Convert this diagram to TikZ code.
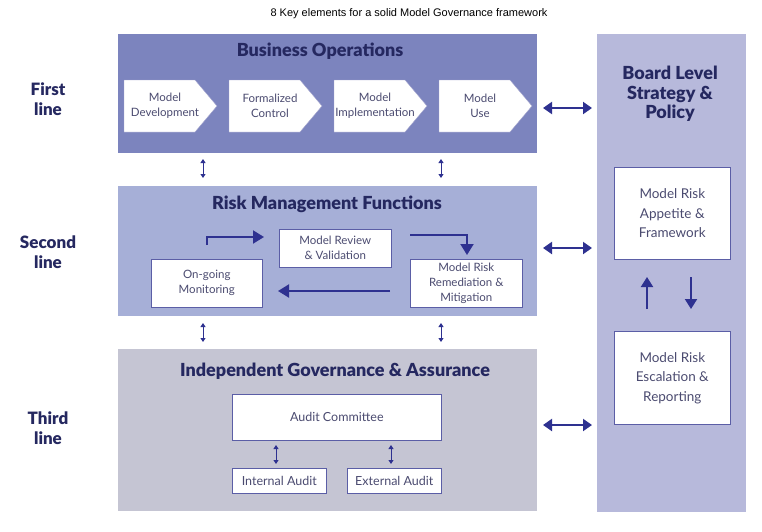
\documentclass[tikz,border=0pt]{standalone}
\usepackage{fontspec}
\setmainfont{Lato}
\newfontfamily\heavy{Lato Black}
\newfontfamily\arialf{Liberation Sans}
\usetikzlibrary{arrows.meta}
\definecolor{bandA}{HTML}{7C84BE}
\definecolor{bandB}{HTML}{A6AFD7}
\definecolor{bandC}{HTML}{C5C5D3}
\definecolor{bandR}{HTML}{B7B9DB}
\definecolor{arr}{HTML}{2E3190}
\definecolor{bord}{HTML}{5B5EA6}
\definecolor{ttl}{HTML}{252860}
\definecolor{btxt}{HTML}{4B4B70}
\tikzset{
  band/.style={draw=none, anchor=north west, inner sep=0pt},
  wbox/.style={draw=bord, line width=0.6pt, fill=white, anchor=north west, inner sep=0pt, align=center, text=btxt, font=\fontsize{11.5}{15}\selectfont},
  chevtxt/.style={align=center, text=btxt, font=\fontsize{11.5}{15}\selectfont},
  bandtitle/.style={text=ttl, font=\heavy\fontsize{18}{20}\selectfont},
  linelbl/.style={text=ttl, align=center, font=\heavy\fontsize{17}{20}\selectfont},
  bigarr/.style={arr, line width=2pt, {Triangle[length=9pt,width=12pt]}-{Triangle[length=9pt,width=12pt]}},
  smallarr/.style={arr, line width=0.8pt, {Triangle[length=4pt,width=5pt]}-{Triangle[length=4pt,width=5pt]}},
  flowarr/.style={arr, line width=2pt, -{Triangle[length=11pt,width=13pt]}},
  vertarr/.style={arr, line width=2pt, -{Triangle[length=10pt,width=12pt]}},
}
\begin{document}
\begin{tikzpicture}[x=1pt,y=-1pt]
\useasboundingbox (0,0) rectangle (762,531);
\fill[white] (0,0) rectangle (762,531);
% title
\node[font=\arialf\fontsize{11}{13}\selectfont] (title) at (409,14) {8 Key elements for a solid Model Governance framework};
% bands
\node[band, fill=bandA, minimum width=419pt, minimum height=119pt] (b1) at (118,34) {};
\node[band, fill=bandB, minimum width=419pt, minimum height=130pt] (b2) at (118,186) {};
\node[band, fill=bandC, minimum width=419pt, minimum height=162pt] (b3) at (118,349) {};
\node[band, fill=bandR, minimum width=149pt, minimum height=478pt] (br) at (597,34) {};
% band titles
\node[bandtitle] (t1) at (320,51) {Business Operations};
\node[bandtitle] (t2) at (327,204) {Risk Management Functions};
\node[bandtitle] (t3) at (335,371) {Independent Governance \& Assurance};
\node[bandtitle, align=center, font=\heavy\fontsize{18}{19.5}\selectfont] (tr) at (670,94) {Board Level\\Strategy \&\\Policy};
% line labels
\node[linelbl] (l1) at (48,99) {First\\line};
\node[linelbl] (l2) at (48,252) {Second\\line};
\node[linelbl] (l3) at (48,428) {Third\\line};
% chevrons
\foreach \L/\nm/\txt in {124/c1/{Model\\Development},229/c2/{Formalized\\Control},334/c3/{Model\\Implementation},439/c4/{Model\\Use}}{
  \filldraw[fill=white, draw=bord!60, line width=0.4pt] (\L,80) -- (\L+71,80) -- (\L+93,106) -- (\L+71,132) -- (\L,132) -- cycle;
  \node[chevtxt] (\nm) at (\L+41,106) {\txt};
}
% risk management boxes
\node[wbox, minimum width=112pt, minimum height=38pt] (rev) at (279,229) {Model Review\\\& Validation};
\node[wbox, minimum width=111pt, minimum height=48pt] (mon) at (151,259) {On-going\\Monitoring};
\node[wbox, minimum width=112pt, minimum height=48pt] (rem) at (410,259) {Model Risk\\Remediation \&\\Mitigation};
% flow arrows
\coordinate (f1a) at (207,245);
\coordinate (f1b) at (264,237);
\draw[flowarr] (f1a) |- (f1b);
\coordinate (f2a) at (410,235);
\coordinate (f2b) at (467,255);
\draw[flowarr] (f2a) -| (f2b);
\coordinate (f3a) at (390,291);
\coordinate (f3b) at (278,291);
\draw[flowarr] (f3a) -- (f3b);
% governance boxes
\node[wbox, minimum width=209pt, minimum height=46pt, font=\fontsize{12.5}{15}\selectfont] (ac) at (232,394) {Audit Committee};
\node[wbox, minimum width=94pt, minimum height=25pt, font=\fontsize{12.5}{15}\selectfont] (ia) at (232,468) {Internal Audit};
\node[wbox, minimum width=94pt, minimum height=25pt, font=\fontsize{12.5}{15}\selectfont] (ea) at (347,468) {External Audit};
\coordinate (ia1) at (276,445); \coordinate (ia2) at (276,464);
\coordinate (ea1) at (391,445); \coordinate (ea2) at (391,464);
\draw[smallarr] (ia1) -- (ia2);
\draw[smallarr] (ea1) -- (ea2);
% right column boxes
\node[wbox, minimum width=116pt, minimum height=92pt, font=\fontsize{13.5}{19.5}\selectfont] (app) at (614,167) {Model Risk\\Appetite \&\\Framework};
\node[wbox, minimum width=116pt, minimum height=93pt, font=\fontsize{13.5}{19.5}\selectfont] (esc) at (614,331) {Model Risk\\Escalation \&\\Reporting};
\coordinate (u1) at (647,309); \coordinate (u2) at (647,277);
\coordinate (d1) at (691,277); \coordinate (d2) at (691,309);
\draw[vertarr] (u1) -- (u2);
\draw[vertarr] (d1) -- (d2);
% small arrows between bands
\foreach \x/\n in {203/a,441/b}{
  \coordinate (s1\n) at (\x,159); \coordinate (s2\n) at (\x,178);
  \draw[smallarr] (s1\n) -- (s2\n);
  \coordinate (s3\n) at (\x,323); \coordinate (s4\n) at (\x,342);
  \draw[smallarr] (s3\n) -- (s4\n);
}
% big double arrows
\foreach \y/\n in {108/p,248/q,425/r}{
  \coordinate (g1\n) at (543,\y); \coordinate (g2\n) at (592,\y);
  \draw[bigarr] (g1\n) -- (g2\n);
}
\end{tikzpicture}
\end{document}
